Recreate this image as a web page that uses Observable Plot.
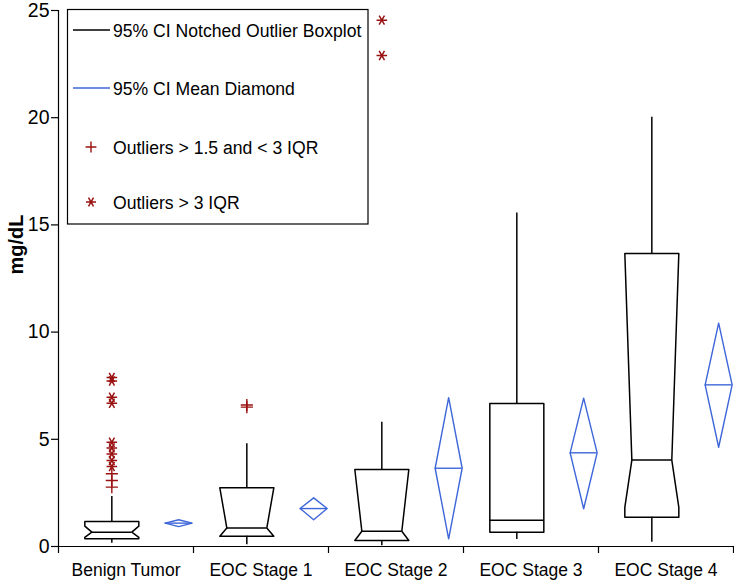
<!DOCTYPE html>
<html><head><meta charset="utf-8">
<script src="https://cdn.jsdelivr.net/npm/d3@7"></script>
<script src="https://cdn.jsdelivr.net/npm/@observablehq/plot@0.6"></script>
<style>body{margin:0;background:#fff} svg{display:block}</style>
</head><body><div id="chart"></div>
<script>
// ---- data ----
const categories = ["Benign Tumor", "EOC Stage 1", "EOC Stage 2", "EOC Stage 3", "EOC Stage 4"];
const whiskerLow  = [0.15, 0.08, 0.03, 0.33, 0.20];
const q1          = [0.36, 0.48, 0.28, 0.67, 1.37];
const median      = [0.67, 0.86, 0.71, 1.23, 4.03];
const q3          = [1.17, 2.74, 3.59, 6.67, 13.67];
const whiskerHigh = [2.33, 4.79, 5.80, 15.55, 20.02];
const notchLow    = [0.43, 0.48, 0.28, null, 1.83];
const notchHigh   = [0.95, 2.74, 3.59, null, 13.67];
const meanValue   = [1.09, 1.77, 3.65, 4.37, 7.54];
const meanCILow   = [0.93, 1.25, 0.36, 1.76, 4.63];
const meanCIHigh  = [1.25, 2.27, 6.94, 6.92, 10.42];
const mildOutlierGroup = ["Benign Tumor", "Benign Tumor", "Benign Tumor", "EOC Stage 1", "EOC Stage 1"];
const mildOutlierValue = [2.77, 3.08, 3.39, 6.50, 6.60];
const extremeOutlierGroup = ["Benign Tumor", "Benign Tumor", "Benign Tumor", "Benign Tumor", "Benign Tumor",
  "Benign Tumor", "Benign Tumor", "Benign Tumor", "Benign Tumor", "EOC Stage 2", "EOC Stage 2"];
const extremeOutlierValue = [3.73, 4.01, 4.32, 4.60, 4.86, 6.68, 6.96, 7.72, 7.88, 22.90, 24.55];
const yTicks = [0, 5, 10, 15, 20, 25];
const legendLabels = ["95% CI Notched Outlier Boxplot", "95% CI Mean Diamond", "Outliers > 1.5 and < 3 IQR", "Outliers > 3 IQR"];

// ---- layout constants ----
const BOX_POS = 0.395, DIA_POS = 0.89, HALF = 0.2, NOTCH = 0.052, DHALF = 0.1;
const BLUE = "#3d66d9", RED = "#991111";
const FONT = "'Liberation Sans', Arial, Helvetica, sans-serif";
const idx = c => categories.indexOf(c);

const boxes = categories.map((c, i) => ({
  i, c, lo: whiskerLow[i], q1: q1[i], med: median[i], q3: q3[i], hi: whiskerHigh[i],
  nlo: notchLow[i], nhi: notchHigh[i], mean: meanValue[i], clo: meanCILow[i], chi: meanCIHigh[i]
}));

const boxPts = boxes.flatMap(b => {
  const cx = b.i + BOX_POS, L = cx - HALF, R = cx + HALF;
  const pts = b.nlo == null
    ? [[L, b.q1], [L, b.q3], [R, b.q3], [R, b.q1]]
    : [[L, b.q3], [L, b.nhi], [L + NOTCH, b.med], [L, b.nlo], [L, b.q1],
       [R, b.q1], [R, b.nlo], [R - NOTCH, b.med], [R, b.nhi], [R, b.q3]];
  return pts.map(([x, y]) => ({x, y, c: b.c}));
});
const diaPts = boxes.flatMap(b => {
  const cx = b.i + DIA_POS;
  return [[cx, b.chi], [cx + DHALF, b.mean], [cx, b.clo], [cx - DHALF, b.mean]].map(([x, y]) => ({x, y, c: b.c}));
});
const mild = mildOutlierGroup.map((g, k) => ({g, v: mildOutlierValue[k]}));
const extreme = extremeOutlierGroup.map((g, k) => ({g, v: extremeOutlierValue[k]}));

const chart = Plot.plot({
  width: 734, height: 582,
  marginLeft: 58, marginRight: 1, marginTop: 10, marginBottom: 36,
  x: {domain: [0, 5], axis: null},
  y: {domain: [0, 25], axis: null},
  style: {fontFamily: FONT, color: "black", background: "white"},
  marks: [
    Plot.axisY({ticks: yTicks, tickSize: 7, tickPadding: 2, fontSize: 19.5, label: null, stroke: "black", strokeWidth: 1.2}),
    Plot.axisX({ticks: [0, 1, 2, 3, 4, 5], tickSize: 7, tickFormat: () => "", label: null, stroke: "black", strokeWidth: 1.2}),
    Plot.ruleX([0], {stroke: "black", strokeWidth: 1.2}),
    Plot.ruleY([0], {stroke: "black", strokeWidth: 1.2}),
    Plot.text(categories, {x: (d, i) => i + 0.5, y: 0, dy: 24, text: d => d, fontSize: 17.5, fill: "black"}),
    Plot.text(["mg/dL"], {frameAnchor: "left", dx: -42, dy: -4, rotate: -90, fontSize: 20, fontWeight: "bold", fill: "black"}),
    // whiskers
    Plot.ruleX(boxes, {x: b => b.i + BOX_POS, y1: "q3", y2: "hi", stroke: "black", strokeWidth: 1.5}),
    Plot.ruleX(boxes, {x: b => b.i + BOX_POS, y1: "q1", y2: "lo", stroke: "black", strokeWidth: 1.5}),
    // notched boxes
    Plot.line(boxPts, {x: "x", y: "y", z: "c", curve: "linear-closed", stroke: "black", strokeWidth: 1.5}),
    Plot.ruleY(boxes, {y: "med",
      x1: b => b.i + BOX_POS - HALF + (b.nlo == null ? 0 : NOTCH),
      x2: b => b.i + BOX_POS + HALF - (b.nlo == null ? 0 : NOTCH),
      stroke: "black", strokeWidth: 1.5}),
    // mean diamonds
    Plot.line(diaPts, {x: "x", y: "y", z: "c", curve: "linear-closed", stroke: BLUE, strokeWidth: 1.4}),
    Plot.ruleY(boxes, {y: "mean", x1: b => b.i + DIA_POS - DHALF, x2: b => b.i + DIA_POS + DHALF, stroke: BLUE, strokeWidth: 1.4}),
    // outliers
    Plot.dot(mild, {x: d => idx(d.g) + BOX_POS, y: "v", symbol: "plus", r: 4, stroke: RED, strokeWidth: 1.4}),
    Plot.dot(extreme, {x: d => idx(d.g) + BOX_POS, y: "v", symbol: "asterisk", rotate: 90, r: 5, stroke: RED, strokeWidth: 1.5})
  ]
});
document.getElementById("chart").appendChild(chart);

// ---- legend box ----
const svg = d3.select(chart);
const lg = svg.append("g").attr("font-family", FONT).attr("font-size", 17.6).attr("fill", "black").attr("text-anchor", "start");
lg.append("rect").attr("x", 67.5).attr("y", 9.5).attr("width", 300.5).attr("height", 214.5)
  .attr("fill", "white").attr("stroke", "black").attr("stroke-width", 1.2);
const rowsY = [30, 88, 147, 202];
lg.append("line").attr("x1", 73).attr("x2", 110).attr("y1", rowsY[0]).attr("y2", rowsY[0]).attr("stroke", "black").attr("stroke-width", 1.3);
lg.append("line").attr("x1", 73).attr("x2", 110).attr("y1", rowsY[1]).attr("y2", rowsY[1]).attr("stroke", BLUE).attr("stroke-width", 1.3);
lg.append("path").attr("transform", `translate(91,${rowsY[2]})`).attr("d", d3.symbol(d3.symbolPlus, 40)()).attr("fill", "none").attr("stroke", RED).attr("stroke-width", 1.4);
lg.append("path").attr("transform", `translate(91,${rowsY[3]}) rotate(90)`).attr("d", d3.symbol(d3.symbolAsterisk, 70)()).attr("fill", "none").attr("stroke", RED).attr("stroke-width", 1.5);
legendLabels.forEach((t, k) => {
  lg.append("text").attr("x", 113).attr("y", rowsY[k] + 6.5).attr("text-anchor", "start").text(t);
});
</script>
</body></html>
